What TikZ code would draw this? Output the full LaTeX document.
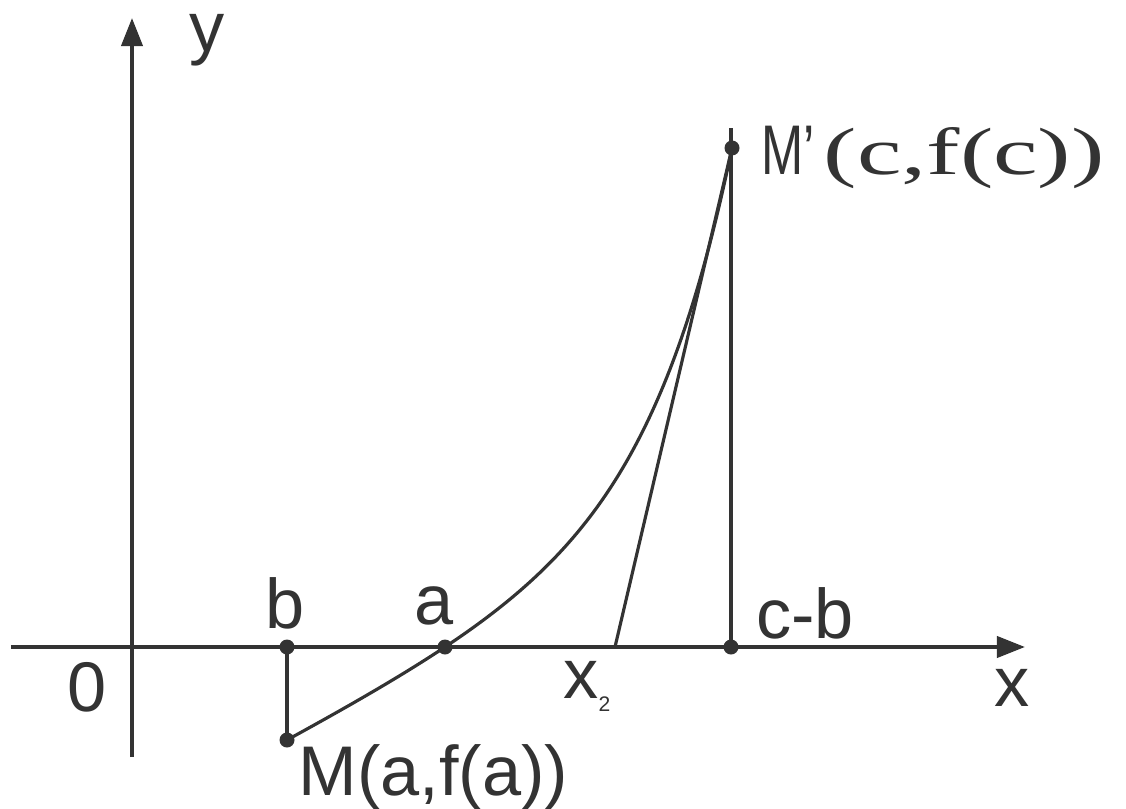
\documentclass[tikz,border=0pt]{standalone}
\usepackage{fontspec}
\setsansfont{Liberation Sans}
\newfontfamily\serifc{Liberation Serif}
\usepackage{graphicx}
\usetikzlibrary{arrows.meta}
\tikzset{
  lbl/.style={font=\fontsize{20}{23}\selectfont\sffamily, text=black!80, inner sep=0pt},
  dot/.style={fill=black!80},
}
\begin{document}
\begin{tikzpicture}[>={Triangle[length=8pt,width=6pt]}, line width=.9pt, draw=black!80]
\useasboundingbox (-1.32,-1.61) rectangle (9.94,6.47);
% axes
\coordinate (xl) at (-1.21,0);
\coordinate (xr) at (8.93,0);
\coordinate (yb) at (0,-1.10);
\coordinate (yt) at (0,6.29);
\draw[->, line width=1.1pt](xl)--(xr);
\draw[->, line width=1.1pt](yb)--(yt);
\node[lbl] (xlab) at (8.80,-.41) {x};
\node[lbl] (ylab) at (.75,6.07) {y};
\node[lbl] (O) at (-.445,-.405) {0};

% points
\coordinate (B) at (1.55,0);
\coordinate (A) at (3.13,0);
\coordinate (X2) at (4.83,0);
\coordinate (C) at (5.99,0);
\coordinate (M) at (1.55,-.93);
\coordinate (Mp) at (6.00,4.99);
\coordinate (Ct) at (5.99,5.19);

\draw (B)--(M);
\draw (C)--(Ct);
\draw (X2)--(Mp);
\draw plot[domain=-1.58:2.87, samples=80, smooth] ({\x+3.13},{.1148*(exp(1.2*\x)-1)+.5268*\x});

\foreach \p in {B,A,C,M,Mp}
  \fill[dot] (\p) circle (.075);

\node[lbl] (blab) at (1.53,.435) {b};
\node[lbl] (alab) at (3.025,.41) {a};
\node[lbl] (clab) at (6.73,.335) {c-b};
\node[lbl, anchor=base west] (x2lab) at (4.30,-.51) {x\raisebox{-3.7pt}{\fontsize{6}{7}\selectfont 2}};
\node[lbl, anchor=base west] (Mlab) at (1.65,-1.48) {M(a,f(a))};
\node[lbl, anchor=base west] (Mplab) at (6.28,4.72) {\scalebox{.72}[1]{M’}\hspace{2.5pt}\scalebox{1.5}[1]{\fontsize{19}{22}\selectfont\serifc (c,f(c))}};
\end{tikzpicture}
\end{document}
